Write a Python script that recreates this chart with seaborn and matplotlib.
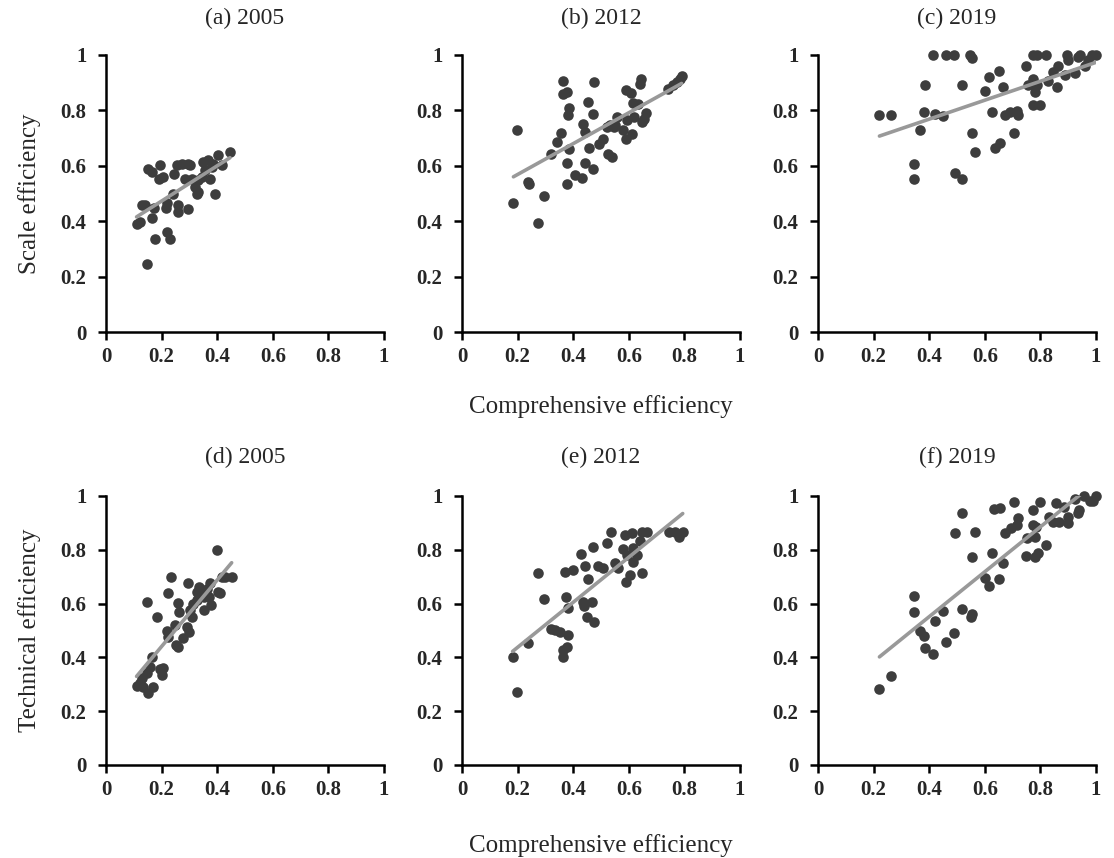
import numpy as np
import seaborn as sns
import matplotlib.pyplot as plt

# (a) 2005: comprehensive vs scale efficiency
ce_2005_a = [0.11, 0.122, 0.128, 0.14, 0.146, 0.152, 0.164, 0.164, 0.173, 0.176,
             0.194, 0.192, 0.204, 0.216, 0.218, 0.218, 0.23, 0.242, 0.245, 0.254,
             0.26, 0.26, 0.272, 0.284, 0.296, 0.296, 0.302, 0.308, 0.32, 0.326,
             0.332, 0.344, 0.35, 0.356, 0.368, 0.374, 0.38, 0.392, 0.404, 0.416,
             0.446, 0.386, 0.332]
se_2005 = [0.389, 0.398, 0.458, 0.458, 0.247, 0.59, 0.578, 0.41, 0.446, 0.334,
           0.602, 0.554, 0.56, 0.446, 0.464, 0.361, 0.334, 0.5, 0.572, 0.602,
           0.458, 0.434, 0.608, 0.554, 0.608, 0.443, 0.602, 0.554, 0.524, 0.5,
           0.548, 0.56, 0.614, 0.584, 0.62, 0.554, 0.596, 0.5, 0.638, 0.602,
           0.65, 0.608, 0.506]

# (b) 2012
ce_2012_b = [0.185, 0.197, 0.239, 0.242, 0.272, 0.296, 0.32, 0.341, 0.356, 0.362,
             0.376, 0.376, 0.376, 0.38, 0.386, 0.386, 0.406, 0.43, 0.436, 0.442,
             0.442, 0.454, 0.457, 0.47, 0.472, 0.494, 0.508, 0.526, 0.541, 0.532,
             0.55, 0.559, 0.58, 0.589, 0.592, 0.59, 0.607, 0.61, 0.616, 0.62,
             0.634, 0.64, 0.646, 0.655, 0.662, 0.742, 0.76, 0.772, 0.362, 0.475,
             0.645, 0.785, 0.79, 0.52, 0.548]
se_2012 = [0.466, 0.731, 0.541, 0.535, 0.393, 0.492, 0.644, 0.686, 0.72, 0.861,
           0.867, 0.535, 0.611, 0.783, 0.807, 0.662, 0.565, 0.557, 0.752, 0.722,
           0.611, 0.829, 0.664, 0.786, 0.589, 0.678, 0.698, 0.644, 0.632, 0.746,
           0.746, 0.777, 0.731, 0.698, 0.764, 0.873, 0.864, 0.716, 0.827, 0.777,
           0.822, 0.897, 0.758, 0.769, 0.789, 0.876, 0.891, 0.903, 0.905, 0.903,
           0.915, 0.915, 0.925, 0.739, 0.739]

# (c) 2019
ce_2019_c = [0.221, 0.263, 0.367, 0.347, 0.347, 0.383, 0.385, 0.412, 0.42, 0.451,
             0.459, 0.489, 0.493, 0.517, 0.519, 0.547, 0.553, 0.553, 0.565, 0.601,
             0.615, 0.625, 0.637, 0.655, 0.651, 0.664, 0.673, 0.691, 0.706, 0.715,
             0.721, 0.748, 0.757, 0.775, 0.789, 0.82, 0.775, 0.799, 0.775, 0.781,
             0.781, 0.789, 0.829, 0.844, 0.865, 0.859, 0.888, 0.894, 0.9, 0.924,
             0.934, 0.942, 0.96, 0.972, 0.984, 1.0]
se_2019 = [0.783, 0.783, 0.729, 0.607, 0.552, 0.793, 0.893, 1.0, 0.787, 0.781,
           1.0, 1.0, 0.574, 0.893, 0.552, 1.0, 0.988, 0.717, 0.651, 0.87,
           0.921, 0.793, 0.665, 0.684, 0.943, 0.884, 0.783, 0.793, 0.72, 0.799,
           0.783, 0.96, 0.893, 1.0, 1.0, 1.0, 0.818, 0.818, 0.915, 0.884,
           0.866, 0.893, 0.906, 0.939, 0.96, 0.884, 0.927, 1.0, 0.982, 0.936,
           0.994, 1.0, 0.96, 0.982, 1.0, 1.0]

# (d) 2005: comprehensive vs technical efficiency
ce_2005_d = [0.11, 0.122, 0.134, 0.128, 0.146, 0.152, 0.146, 0.158, 0.164, 0.17,
             0.182, 0.194, 0.2, 0.206, 0.218, 0.224, 0.222, 0.233, 0.248, 0.252,
             0.26, 0.26, 0.264, 0.278, 0.29, 0.296, 0.3, 0.308, 0.314, 0.326,
             0.336, 0.344, 0.353, 0.353, 0.362, 0.372, 0.374, 0.376, 0.398, 0.404,
             0.41, 0.416, 0.428, 0.452, 0.326, 0.302]
te_2005 = [0.294, 0.304, 0.291, 0.322, 0.607, 0.266, 0.341, 0.366, 0.403, 0.291,
           0.551, 0.356, 0.335, 0.359, 0.499, 0.638, 0.477, 0.7, 0.52, 0.446,
           0.437, 0.601, 0.57, 0.473, 0.514, 0.678, 0.496, 0.551, 0.599, 0.644,
           0.663, 0.644, 0.626, 0.576, 0.653, 0.626, 0.678, 0.595, 0.799, 0.644,
           0.638, 0.7, 0.7, 0.7, 0.613, 0.576]

# (e) 2012
ce_2012_e = [0.182, 0.197, 0.239, 0.272, 0.296, 0.32, 0.335, 0.353, 0.362, 0.362,
             0.376, 0.374, 0.371, 0.382, 0.382, 0.4, 0.427, 0.434, 0.442, 0.439,
             0.454, 0.451, 0.466, 0.47, 0.475, 0.49, 0.508, 0.52, 0.535, 0.55,
             0.562, 0.578, 0.586, 0.59, 0.592, 0.604, 0.61, 0.616, 0.616, 0.631,
             0.64, 0.646, 0.646, 0.664, 0.746, 0.766, 0.782, 0.794]
te_2012 = [0.401, 0.273, 0.454, 0.715, 0.616, 0.507, 0.503, 0.495, 0.401, 0.426,
           0.439, 0.623, 0.719, 0.582, 0.482, 0.725, 0.784, 0.607, 0.738, 0.591,
           0.692, 0.551, 0.607, 0.812, 0.53, 0.738, 0.731, 0.825, 0.865, 0.75,
           0.731, 0.802, 0.856, 0.682, 0.781, 0.707, 0.862, 0.753, 0.806, 0.781,
           0.831, 0.715, 0.865, 0.865, 0.866, 0.866, 0.847, 0.865]

# (f) 2019
ce_2019_f = [0.221, 0.263, 0.347, 0.347, 0.367, 0.381, 0.385, 0.412, 0.421, 0.451,
             0.459, 0.49, 0.493, 0.517, 0.519, 0.549, 0.555, 0.553, 0.565, 0.601,
             0.615, 0.625, 0.634, 0.655, 0.651, 0.667, 0.673, 0.694, 0.705, 0.718,
             0.715, 0.748, 0.753, 0.775, 0.781, 0.781, 0.793, 0.775, 0.784, 0.799,
             0.82, 0.832, 0.844, 0.856, 0.868, 0.885, 0.9, 0.9, 0.924, 0.934,
             0.94, 0.957, 0.978, 0.99, 1.0]
te_2019 = [0.283, 0.332, 0.628, 0.57, 0.499, 0.48, 0.434, 0.411, 0.537, 0.574,
           0.458, 0.492, 0.861, 0.938, 0.579, 0.551, 0.561, 0.772, 0.867, 0.694,
           0.667, 0.789, 0.95, 0.957, 0.691, 0.752, 0.861, 0.88, 0.979, 0.917,
           0.892, 0.778, 0.843, 0.948, 0.849, 0.774, 0.787, 0.892, 0.886, 0.979,
           0.818, 0.921, 0.905, 0.973, 0.905, 0.96, 0.921, 0.901, 0.988, 0.938,
           0.948, 1.0, 0.983, 0.983, 1.0]

titles = ["(a) 2005", "(b) 2012", "(c) 2019", "(d) 2005", "(e) 2012", "(f) 2019"]
panels = [(ce_2005_a, se_2005), (ce_2012_b, se_2012), (ce_2019_c, se_2019),
          (ce_2005_d, te_2005), (ce_2012_e, te_2012), (ce_2019_f, te_2019)]
tick_vals = [0, 0.2, 0.4, 0.6, 0.8, 1]
tick_labels = ["0", "0.2", "0.4", "0.6", "0.8", "1"]

sns.set_style("ticks")
plt.rcParams['font.family'] = ['Liberation Serif', 'DejaVu Serif']

fig = plt.figure(figsize=(11.14, 8.58), dpi=100)
lefts = [106 / 1114, 462 / 1114, 818 / 1114]
rows = [(1 - 332 / 858, 277 / 858), (1 - 765 / 858, 269 / 858)]
w = 278 / 1114

axes = []
for i, (x, y) in enumerate(panels):
    bottom, height = rows[i // 3]
    ax = fig.add_axes([lefts[i % 3], bottom, w, height])
    sns.regplot(x=np.array(x), y=np.array(y), ax=ax, ci=None,
                scatter_kws=dict(s=58, color="#3d3d3d", alpha=1, linewidths=0,
                                 clip_on=False, zorder=3),
                line_kws=dict(color="#999999", lw=2.6, zorder=4))
    ax.set_xlim(0, 1)
    ax.set_ylim(0, 1)
    ax.set_xticks(tick_vals, tick_labels)
    ax.set_yticks(tick_vals, tick_labels)
    for lab in ax.get_xticklabels() + ax.get_yticklabels():
        lab.set_fontweight("bold")
        lab.set_fontsize(15)
    ax.tick_params(direction="out", length=6, width=1.8, color="black")
    ax.tick_params(axis="y", pad=8)
    ax.tick_params(axis="x", pad=5)
    for s in ["left", "bottom"]:
        ax.spines[s].set_linewidth(1.8)
        ax.spines[s].set_color("black")
    sns.despine(ax=ax)
    ax.set_title(titles[i], fontsize=17, pad=22 if i < 3 else 24)
    axes.append(ax)

axes[0].set_ylabel("Scale efficiency", fontsize=18, labelpad=14)
axes[3].set_ylabel("Technical efficiency", fontsize=18, labelpad=14)
axes[1].set_xlabel("Comprehensive efficiency", fontsize=18, labelpad=20)
axes[4].set_xlabel("Comprehensive efficiency", fontsize=18, labelpad=24)

fig.savefig("out.png", dpi=100)
